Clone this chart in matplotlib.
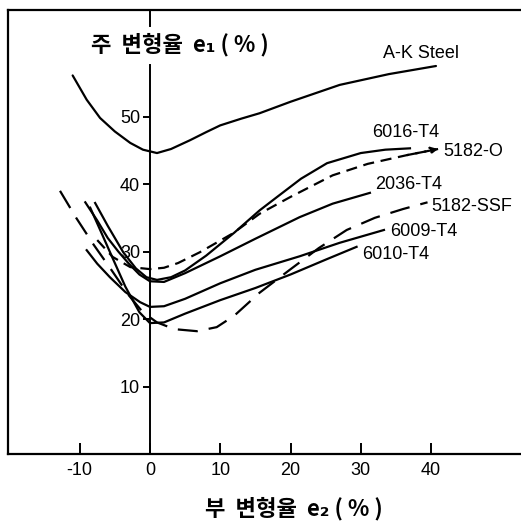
import matplotlib
matplotlib.use("Agg")
import matplotlib.pyplot as plt

# ---- data ----
ak_x = [-11.0, -9.0, -7.1, -5.0, -2.8, -1.0, 1.0, 3.0, 5.7, 8.0, 10.0, 13.0, 15.6, 20.0, 27.0, 34.0, 40.7]
ak_y = [56.1, 52.5, 49.8, 47.8, 46.1, 45.1, 44.6, 45.2, 46.5, 47.7, 48.7, 49.7, 50.5, 52.2, 54.7, 56.3, 57.5]

t6016_x = [-7.8, -6.0, -3.8, -2.0, -0.5, 1.0, 3.0, 5.0, 8.0, 12.0, 15.6, 18.1, 21.5, 25.2, 30.0, 33.5, 37.0]
t6016_y = [37.2, 33.8, 29.9, 27.5, 26.2, 25.8, 26.2, 27.2, 29.4, 32.8, 36.1, 38.1, 40.8, 43.1, 44.6, 45.1, 45.3]

o5182_x = [-7.5, -5.3, -2.8, 0.0, 2.0, 4.0, 7.1, 11.8, 15.6, 20.0, 26.0, 31.0, 36.6, 41.0]
o5182_y = [31.7, 29.2, 27.7, 27.4, 27.6, 28.3, 29.9, 32.7, 35.6, 38.1, 41.3, 43.0, 44.3, 45.2]

t2036_x = [-9.2, -7.5, -6.0, -4.5, -3.0, -1.5, 0.0, 2.0, 5.0, 10.0, 15.0, 21.3, 26.0, 31.3]
t2036_y = [37.3, 34.6, 32.0, 30.0, 28.2, 26.6, 25.6, 25.5, 26.8, 29.3, 31.9, 35.1, 37.1, 38.7]

ssf_x = [-12.8, -10.5, -8.0, -5.5, -3.0, -1.0, 1.0, 3.5, 6.7, 9.5, 12.0, 15.6, 19.9, 24.0, 28.0, 32.0, 36.0, 39.5]
ssf_y = [39.0, 35.0, 31.0, 27.3, 23.5, 21.0, 19.5, 18.5, 18.2, 18.8, 20.5, 23.9, 27.3, 30.5, 33.2, 35.0, 36.3, 37.3]

t6009_x = [-9.0, -7.5, -5.7, -3.5, -1.4, 0.0, 2.0, 5.0, 10.0, 15.0, 21.3, 27.0, 33.3]
t6009_y = [30.2, 28.2, 26.2, 24.0, 22.5, 21.8, 21.9, 23.0, 25.3, 27.3, 29.3, 31.3, 33.2]

t6010_x = [-8.5, -7.0, -5.0, -3.5, -1.5, 0.0, 2.0, 5.0, 10.0, 15.0, 20.0, 25.0, 29.4]
t6010_y = [36.5, 33.0, 28.3, 24.8, 21.0, 19.4, 19.5, 20.8, 22.8, 24.6, 26.6, 28.8, 30.7]

names = ["A-K Steel", "6016-T4", "5182-O", "2036-T4", "5182-SSF", "6009-T4", "6010-T4"]
label_x = [33.1, 31.6, 41.8, 32.0, 40.1, 34.2, 30.2]
label_y = [59.4, 47.6, 44.9, 40.0, 36.7, 33.0, 29.5]

xticks = [-10, 0, 10, 20, 30, 40]
yticks = [10, 20, 30, 40, 50]

# ---- figure ----
fig = plt.figure(figsize=(5.21, 5.23), dpi=100)
ax = fig.add_axes([8/521, 69/523, 513/521, 444/523])
ax.set_xlim(-20.2, 52.8)
ax.set_ylim(0, 65.8)

lw = 1.6
k = "black"
ax.plot(ak_x, ak_y, color=k, lw=lw, solid_joinstyle="round", solid_capstyle="round")
ax.plot(t6016_x, t6016_y, color=k, lw=lw, solid_joinstyle="round")
ax.plot(o5182_x, o5182_y, color=k, lw=lw, dashes=(5, 3))
ax.annotate("", xy=(o5182_x[-1], o5182_y[-1]), xytext=(o5182_x[-2], o5182_y[-2]),
            arrowprops=dict(arrowstyle="-|>", color=k, lw=lw, mutation_scale=10,
                            linestyle=(0, (5, 3)), shrinkA=0, shrinkB=0))
ax.plot(t2036_x, t2036_y, color=k, lw=lw, solid_joinstyle="round")
ax.plot(ssf_x, ssf_y, color=k, lw=lw, dashes=(9, 5))
ax.plot(t6009_x, t6009_y, color=k, lw=lw, solid_joinstyle="round")
ax.plot(t6010_x, t6010_y, color=k, lw=lw, solid_joinstyle="round")

lab_font = ["Liberation Sans", "DejaVu Sans"]
for n, lx, ly in zip(names, label_x, label_y):
    ax.text(lx, ly, n, ha="left", va="center", fontsize=13, family=lab_font)

# spines
for s in ["top", "bottom"]:
    ax.spines[s].set_linewidth(1.6)
ax.spines["right"].set_visible(False)
ax.spines["left"].set_position(("data", 0))
ax.spines["left"].set_linewidth(1.4)
ax.spines["left"].set_bounds(0, 57.6)
# short piece of y axis above the title and outer frame line
ax.plot([0, 0], [63.5, 65.8], color=k, lw=1.4, clip_on=False)
ax.plot([0, 0], [0, 1], color=k, lw=1.6, transform=ax.transAxes, clip_on=False)

ax.set_xticks(xticks)
ax.set_xticklabels([str(v) for v in xticks], family=lab_font, fontsize=13)
ax.set_yticks(yticks)
ax.set_yticklabels([str(v) for v in yticks], family=lab_font, fontsize=13)
ax.tick_params(axis="x", direction="in", length=8, width=1.4, pad=6)
ax.tick_params(axis="y", direction="out", length=5, width=1.4, pad=2)

kfont = ["Noto Sans CJK KR", "DejaVu Sans"]
fig.text(180/521, 1 - 45/523, "주  변형율  e\u2081 ( % )", ha="center", va="center",
         fontsize=16, fontweight="bold", family=kfont)
fig.text(294/521, 1 - 509/523, "부  변형율  e\u2082 ( % )", ha="center", va="center",
         fontsize=16, fontweight="bold", family=kfont)

fig.savefig("out.png", dpi=100, facecolor="white")
